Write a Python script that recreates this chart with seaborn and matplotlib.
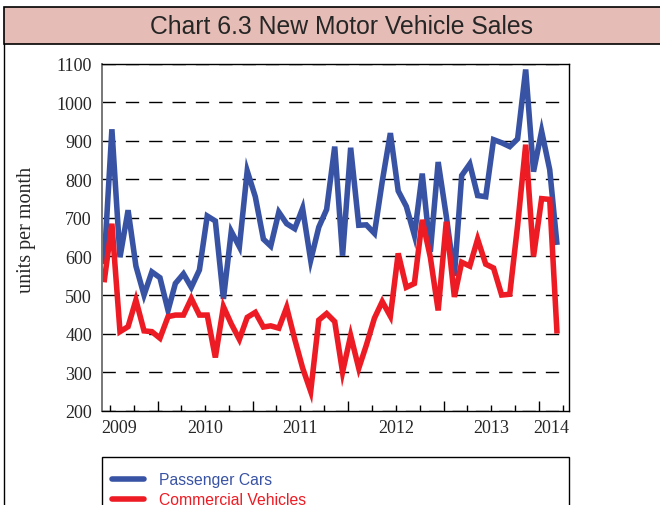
import numpy as np
import pandas as pd
import matplotlib
matplotlib.use("Agg")
import matplotlib.pyplot as plt
import matplotlib.dates as mdates
import matplotlib.transforms as mtransforms
from matplotlib.patches import Rectangle
from matplotlib.lines import Line2D
import seaborn as sns

# monthly sales, Jun 2009 - Mar 2014
months = pd.date_range("2009-06-01", "2014-03-01", freq="MS")
passenger_cars = [580, 930, 598, 720, 575, 500, 560, 545, 460, 530,
                  555, 520, 565, 705, 692, 490, 665, 625, 822, 755,
                  645, 627, 715, 685, 672, 725, 590, 676, 722, 885,
                  602, 882, 681, 682, 660, 795, 920, 770, 730, 655,
                  815, 612, 845, 705, 550, 810, 840, 758, 755, 903,
                  895, 885, 905, 1085, 820, 925, 825, 630]
commercial_vehicles = [533, 685, 405, 418, 487, 407, 405, 388, 444, 448,
                       448, 491, 448, 448, 338, 470, 425, 385, 442, 455,
                       417, 420, 414, 468, 385, 311, 250, 435, 452, 431,
                       300, 395, 310, 370, 440, 483, 445, 608, 520, 530,
                       695, 598, 460, 690, 495, 585, 575, 645, 580, 570,
                       500, 502, 680, 890, 600, 750, 748, 400]
series_names = ["Passenger Cars", "Commercial Vehicles"]
year_labels = ["2009", "2010", "2011", "2012", "2013", "2014"]

blue = "#3953a4"
red = "#ed1c24"

df = pd.DataFrame({"month": months + pd.Timedelta(days=9),
                   "Passenger Cars": passenger_cars,
                   "Commercial Vehicles": commercial_vehicles})
long_df = df.melt(id_vars="month", var_name="series", value_name="units")

sns.set_style("white")
plt.rcParams["font.family"] = ["Liberation Serif", "DejaVu Serif"]

fig = plt.figure(figsize=(6.6, 5.06), dpi=100)
ax = fig.add_axes([0.1541, 0.1864, 0.7085, 0.6857])

sns.lineplot(data=long_df, x="month", y="units", hue="series",
             palette={series_names[0]: blue, series_names[1]: red},
             linewidth=4, ax=ax, legend=False)
for ln in ax.lines:
    ln.set_solid_joinstyle("miter")
    ln.set_solid_capstyle("butt")

x_start = pd.Timestamp("2009-06-01")
x_end = pd.Timestamp("2014-04-26")
ax.set_xlim(x_start, x_end)
ax.set_ylim(200, 1100)
ax.set_yticks(range(200, 1101, 100))
ax.set_axisbelow(True)
ax.yaxis.grid(True, color="black", linewidth=1.0, linestyle=(0, (9.6, 7.2)))
ax.xaxis.grid(False)
ax.set_xlabel("")
ax.set_ylabel("")

ax.xaxis.set_major_locator(mdates.MonthLocator(bymonth=1))
ax.xaxis.set_minor_locator(mdates.MonthLocator(bymonth=[4, 7, 10]))
ax.xaxis.set_major_formatter(plt.NullFormatter())
ax.tick_params(axis="x", which="major", direction="in", length=7, width=1,
               color="black", bottom=True)
ax.tick_params(axis="x", which="minor", direction="in", length=4, width=1,
               color="black", bottom=True)
ax.tick_params(axis="y", length=0, labelsize=13, pad=7)

for side in ["top", "right", "bottom"]:
    ax.spines[side].set_color("black")
    ax.spines[side].set_linewidth(1.0)
ax.spines["left"].set_color("#777777")
ax.spines["left"].set_linewidth(1.4)

# year labels under the axis
trans = mtransforms.blended_transform_factory(ax.transData, ax.transAxes)
for i, lab in enumerate(year_labels):
    if i == 0:
        xpos, ha = x_start, "left"
    elif i == len(year_labels) - 1:
        xpos, ha = x_end, "right"
    else:
        xpos, ha = pd.Timestamp(f"{lab}-07-01"), "center"
    ax.text(mdates.date2num(xpos), -0.061, lab, transform=trans, ha=ha,
            va="baseline", fontsize=13)

fig.text(27 / 660, 1 - 230 / 506, "units per month", rotation=90,
         ha="center", va="center", fontsize=14.5)

# title band and frame
fig.patches.append(Rectangle((4 / 660, 1 - 45 / 506), 1.0, 37 / 506,
                             transform=fig.transFigure, facecolor="#e6bdb6",
                             edgecolor="black", linewidth=1.2))
fig.add_artist(Line2D([4 / 660, 4 / 660], [0, 1 - 45 / 506],
                      transform=fig.transFigure, color="black", linewidth=1.0))
fig.text(342 / 660, 1 - 27 / 506, "Chart 6.3 New Motor Vehicle Sales",
         ha="center", va="center", fontsize=17.8, family="Liberation Sans")

# legend box
fig.patches.append(Rectangle((102 / 660, -0.05), (569.3 - 102) / 660,
                             (1 - 458 / 506) + 0.05, transform=fig.transFigure,
                             facecolor="none", edgecolor="black", linewidth=1.0))
handles = [Line2D([], [], color=blue, linewidth=4),
           Line2D([], [], color=red, linewidth=4)]
fig.legend(handles, series_names, loc="upper left",
           bbox_to_anchor=(112 / 660, 1 - 473 / 506), frameon=False,
           prop={"family": "Liberation Sans", "size": 11.3},
           labelcolor=[blue, red], handlelength=2.04, handletextpad=0.96,
           labelspacing=0.34, borderpad=0, borderaxespad=0)

fig.savefig("out.png", dpi=100)
